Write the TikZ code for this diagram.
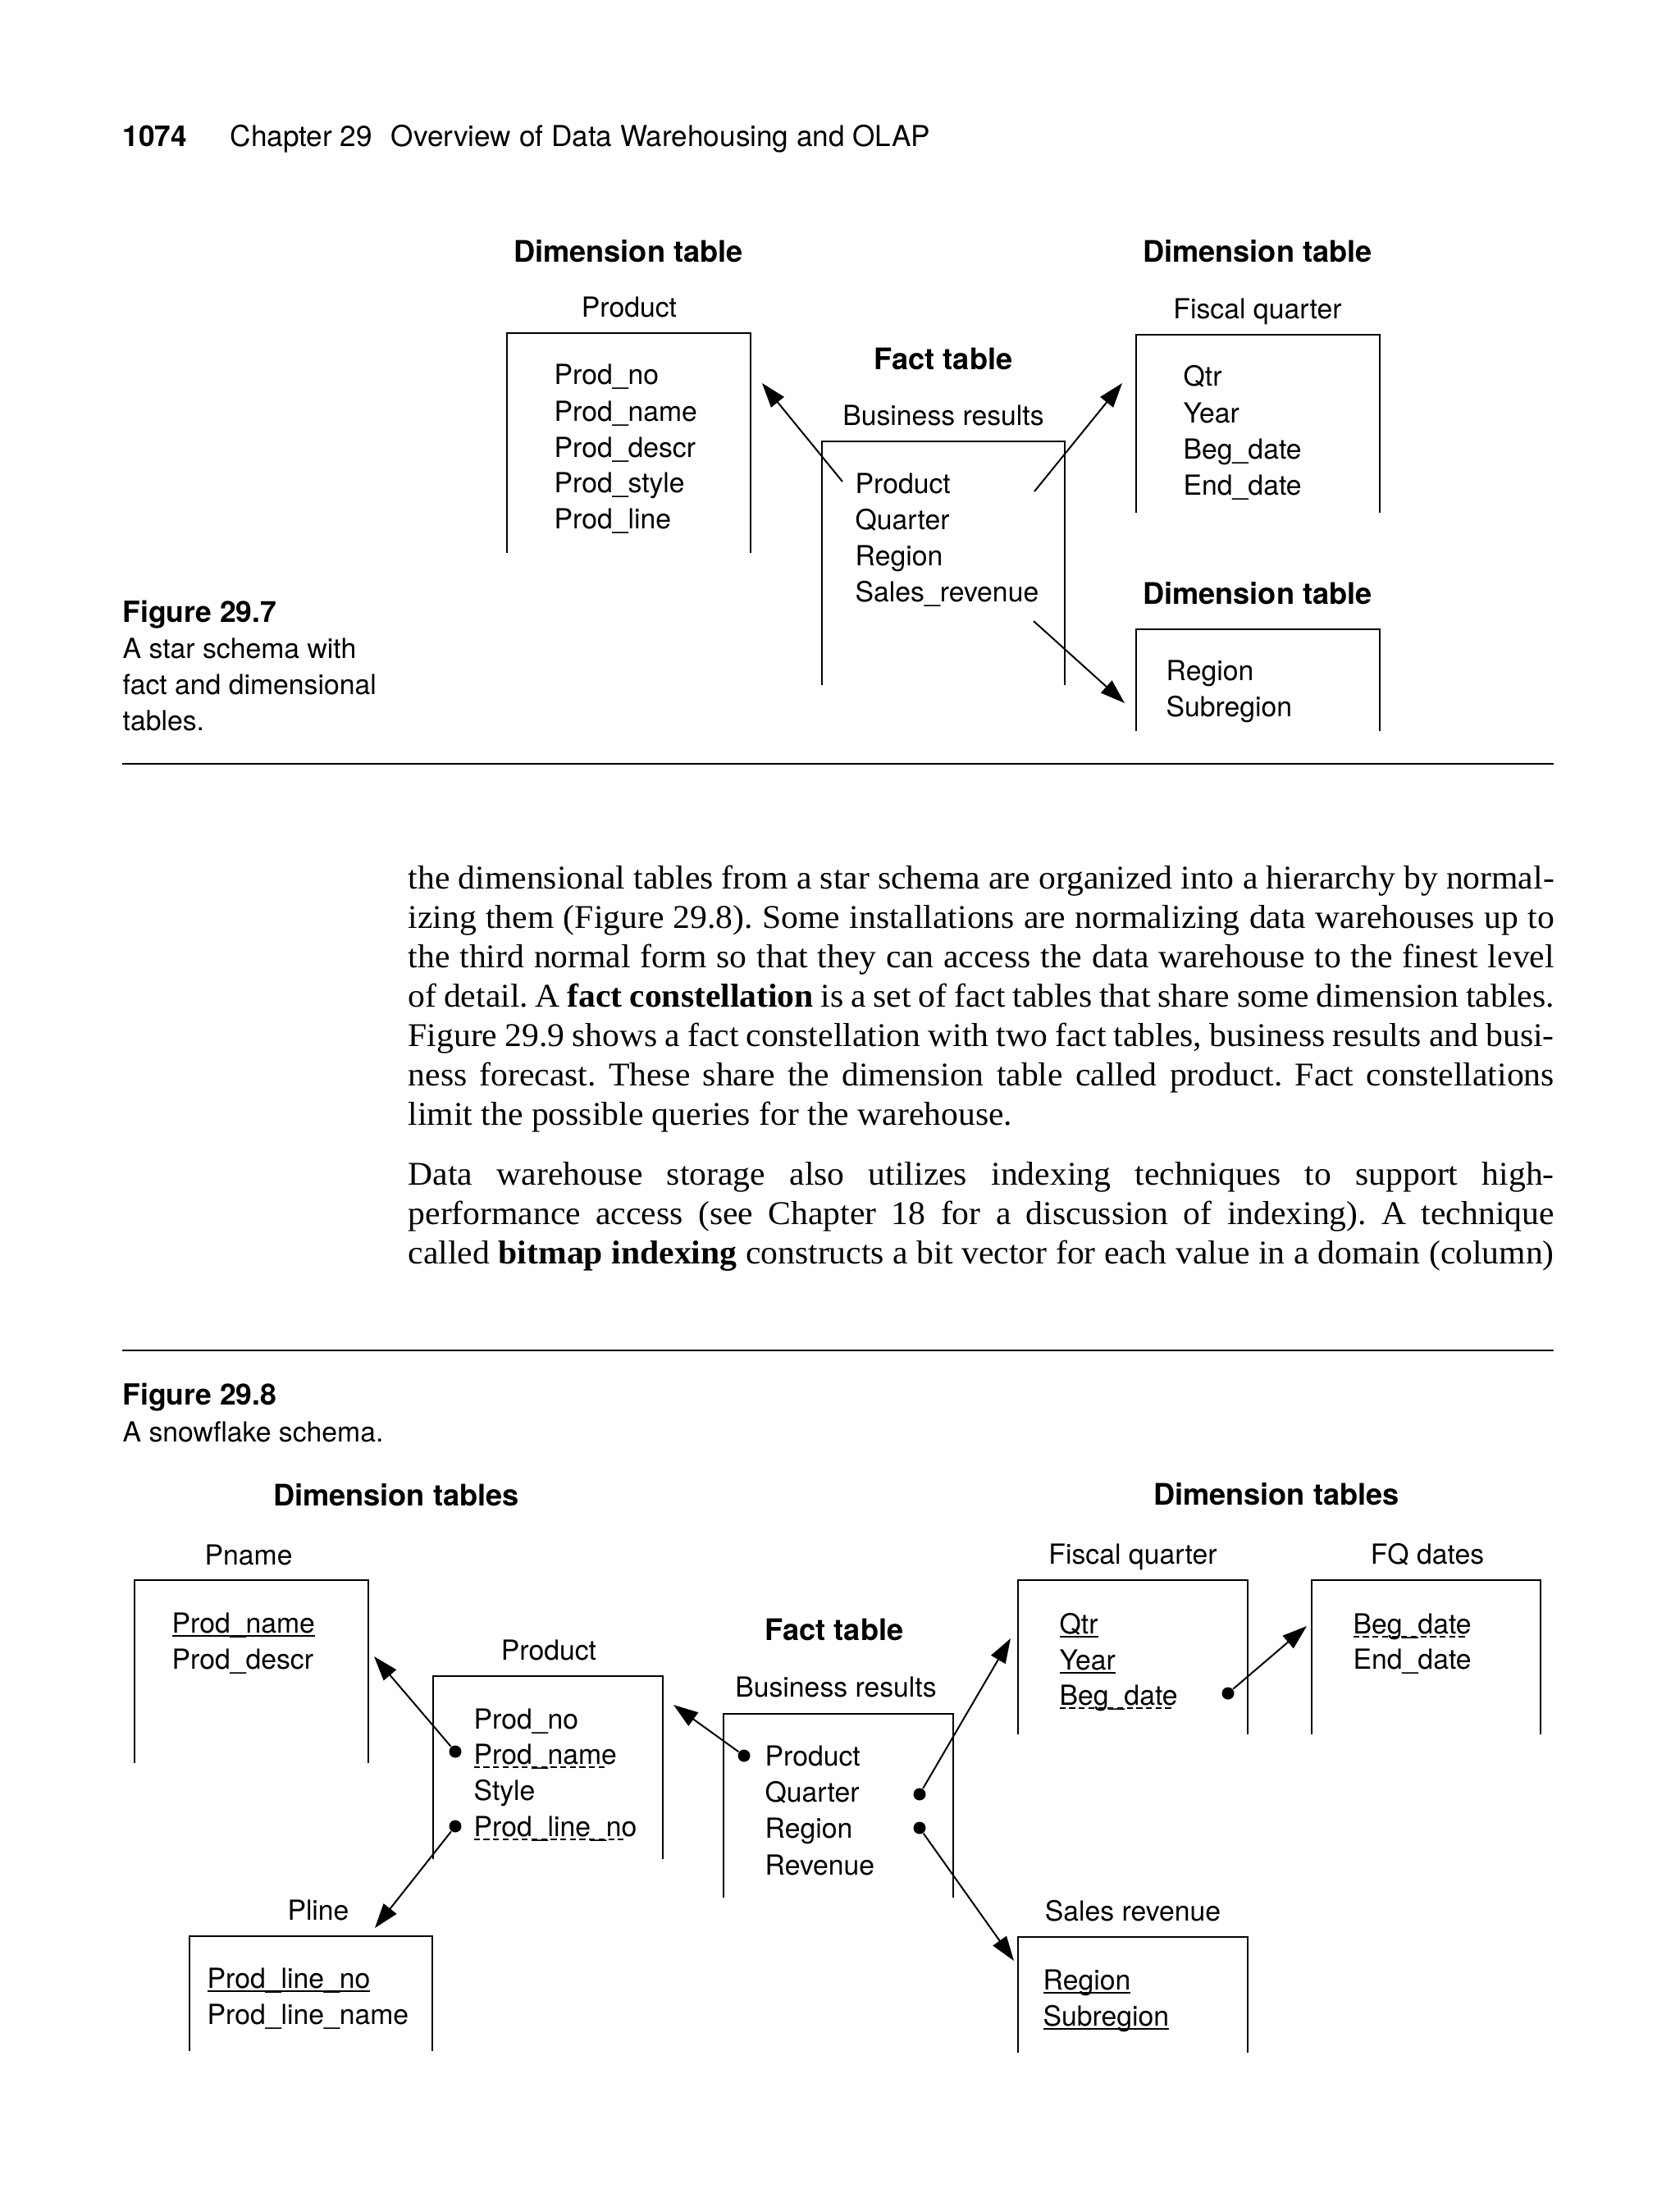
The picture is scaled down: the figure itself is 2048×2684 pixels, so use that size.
\documentclass[tikz,border=0pt]{standalone}
\usepackage{fontspec}
\setmainfont{Liberation Serif}[FakeStretch=1.03]
\newfontfamily\hv{TeX Gyre Heros}
\usetikzlibrary{arrows.meta}
\newcommand\dtext{\hv\fontsize{9.6}{11}\selectfont}
\newcommand\dbold{\hv\bfseries\fontsize{10.3}{12}\selectfont}
\newcommand\hdrfont{\hv\fontsize{10}{12}\selectfont}
\newcommand\capfont{\hv\fontsize{9.6}{12}\selectfont}
\newcommand\capbold{\hv\bfseries\fontsize{10.1}{12}\selectfont}
\newcommand\bodyfont{\fontsize{11.5}{13.7}\selectfont\frenchspacing}
\newsavebox\ulbox
\newcommand\solidu[1]{\sbox\ulbox{#1}\rlap{\rule[-0.5mm]{\wd\ulbox}{0.22mm}}\usebox\ulbox}
\newcommand\dashu[1]{\sbox\ulbox{#1}\rlap{\hbox to\wd\ulbox{\leaders\hbox{\rule[-0.5mm]{0.72mm}{0.22mm}\hskip0.45mm}\hfill}}\usebox\ulbox}
\newcommand\bline[1]{{\bodyfont\spaceskip=0.2em plus 1em\relax\makebox[139.7mm][s]{#1}}}
\begin{document}
\begin{tikzpicture}[x=0.1mm,y=-0.1mm,
  item/.style={anchor=base west,inner sep=0,font=\dtext},
  tname/.style={anchor=base,inner sep=0,font=\dtext},
  ttl/.style={anchor=base,inner sep=0,font=\dbold},
  body/.style={anchor=base west,inner sep=0},
  capt/.style={anchor=base west,inner sep=0,font=\capfont},
  tbl/.style={line width=0.25mm},
  arr/.style={line width=0.2mm,-{Triangle[length=3mm,width=2mm]}},
  dotn/.style={circle,fill,inner sep=0,minimum size=1.5mm},
  hrule/.style={line width=0.25mm}]
\fill[white] (0,0) rectangle (2048,2684);
\useasboundingbox (0,0) rectangle (2048,2684);

% header
\node[anchor=base west,inner sep=0,font=\hv\bfseries\fontsize{10}{12}\selectfont] (pg) at (149,178) {1074};
\node[anchor=base west,inner sep=0,font=\hdrfont] (chap) at (280,178) {Chapter 29\hspace{2.3mm}Overview of Data Warehousing and OLAP};

% ---------- Figure 29.7 ----------
\node[ttl] (d1) at (766,319) {Dimension table};
\node[tname] (t1) at (767,386) {Product};
\draw[tbl] (618,674) -- (618,406) -- (915,406) -- (915,674);
\node[item] (p1) at (675,468) {Prod\_no};
\node[item] (p2) at (675,513) {Prod\_name};
\node[item] (p3) at (675,557) {Prod\_descr};
\node[item] (p4) at (675,600) {Prod\_style};
\node[item] (p5) at (675,644) {Prod\_line};

\node[ttl] (ft) at (1150,450) {Fact table};
\node[tname] (br) at (1150,518) {Business results};
\draw[tbl] (1002,835) -- (1002,538) -- (1298,538) -- (1298,835);
\node[item] (f1) at (1042,601) {Product};
\node[item] (f2) at (1042,645) {Quarter};
\node[item] (f3) at (1042,689) {Region};
\node[item] (f4) at (1042,733) {Sales\_revenue};

\node[ttl] (d2) at (1533,319) {Dimension table};
\node[tname] (t2) at (1533,388) {Fiscal quarter};
\draw[tbl] (1385,625) -- (1385,408) -- (1682,408) -- (1682,625);
\node[item] (q1) at (1442,470) {Qtr};
\node[item] (q2) at (1442,515) {Year};
\node[item] (q3) at (1442,559) {Beg\_date};
\node[item] (q4) at (1442,603) {End\_date};

\node[ttl] (d3) at (1533,736) {Dimension table};
\draw[tbl] (1385,891) -- (1385,767) -- (1682,767) -- (1682,891);
\node[item] (r1) at (1421,829) {Region};
\node[item] (r2) at (1421,873) {Subregion};

\coordinate (s1) at (1027,587);
\coordinate (e1) at (929,467);
\coordinate (s2) at (1261,599);
\coordinate (e2) at (1368,467);
\coordinate (s3) at (1260,757);
\coordinate (e3) at (1371,857);
\draw[arr] (s1) -- (e1);
\draw[arr] (s2) -- (e2);
\draw[arr] (s3) -- (e3);

\node[anchor=base west,inner sep=0,font=\capbold] (c7) at (149,758) {Figure 29.7};
\node[capt] (c7a) at (149,802) {A star schema with};
\node[capt] (c7b) at (149,846) {fact and dimensional};
\node[capt] (c7c) at (149,890) {tables.};

\coordinate (r1a) at (149,931);
\coordinate (r1b) at (1894,931);
\draw[hrule] (r1a) -- (r1b);

% ---------- body text ----------
\node[body] (b1) at (497,1083) {\bline{the dimensional tables from a star schema are organized into a hierarchy by normal-}};
\node[body] (b2) at (497,1131) {\bline{izing them (Figure 29.8). Some installations are normalizing data warehouses up to}};
\node[body] (b3) at (497,1179) {\bline{the third normal form so that they can access the data warehouse to the finest level}};
\node[body] (b4) at (497,1227) {\bline{of detail. A \textbf{fact constellation} is a set of fact tables that share some dimension tables.}};
\node[body] (b5) at (497,1275) {\bline{Figure 29.9 shows a fact constellation with two fact tables, business results and busi-}};
\node[body] (b6) at (497,1323) {\bline{ness forecast. These share the dimension table called product. Fact constellations}};
\node[body] (b7) at (497,1371) {\bodyfont limit the possible queries for the warehouse.};
\node[body] (b8) at (497,1444) {\bline{Data warehouse storage also utilizes indexing techniques to support high-}};
\node[body] (b9) at (497,1492) {\bline{performance access (see Chapter 18 for a discussion of indexing). A technique}};
\node[body] (b10) at (497,1540) {\bline{called \textbf{bitmap indexing} constructs a bit vector for each value in a domain (column)}};

\coordinate (r2a) at (149,1646);
\coordinate (r2b) at (1894,1646);
\draw[hrule] (r2a) -- (r2b);

\node[anchor=base west,inner sep=0,font=\capbold] (c8) at (149,1712) {Figure 29.8};
\node[capt] (c8a) at (149,1757) {A snowflake schema.};

% ---------- Figure 29.8 ----------
\node[ttl] (dl) at (483,1835) {Dimension tables};
\node[ttl] (dr) at (1556,1834) {Dimension tables};

\node[item] (pn) at (249,1907) {Pname};
\draw[tbl] (164,2149) -- (164,1926) -- (449,1926) -- (449,2149);
\node[item] (pn1) at (209,1990) {\solidu{Prod\_name}};
\node[item] (pn2) at (209,2034) {Prod\_descr};

\node[tname] (pr) at (669,2023) {Product};
\draw[tbl] (528,2266) -- (528,2043) -- (808,2043) -- (808,2266);
\node[item] (pr1) at (577,2107) {Prod\_no};
\node[item] (pr2) at (577,2150) {\dashu{Prod\_name}};
\node[item] (pr3) at (577,2194) {Style};
\node[item] (pr4) at (577,2238) {\dashu{Prod\_line\_no}};
\node[dotn] (dPn) at (555,2135) {};
\node[dotn] (dPl) at (555,2226) {};

\node[tname] (pl) at (388,2340) {Pline};
\draw[tbl] (231,2500) -- (231,2360) -- (527,2360) -- (527,2500);
\node[item] (pl1) at (252,2423) {\solidu{Prod\_line\_no}};
\node[item] (pl2) at (252,2467) {Prod\_line\_name};

\node[ttl] (ft2) at (1017,1999) {Fact table};
\node[tname] (br2) at (1019,2068) {Business results};
\draw[tbl] (882,2313) -- (882,2089) -- (1162,2089) -- (1162,2313);
\node[item] (fa1) at (932,2152) {Product};
\node[item] (fa2) at (932,2196) {Quarter};
\node[item] (fa3) at (932,2240) {Region};
\node[item] (fa4) at (932,2285) {Revenue};
\node[dotn] (dFp) at (907,2140) {};
\node[dotn] (dFq) at (1121,2187) {};
\node[dotn] (dFr) at (1121,2228) {};

\node[tname] (fq) at (1381,1906) {Fiscal quarter};
\draw[tbl] (1241,2114) -- (1241,1926) -- (1521,1926) -- (1521,2114);
\node[item] (fq1) at (1291,1991) {\solidu{Qtr}};
\node[item] (fq2) at (1291,2035) {\solidu{Year}};
\node[item] (fq3) at (1291,2078) {\dashu{Beg\_date}};
\node[dotn] (dFb) at (1497,2064) {};

\node[tname] (fd) at (1740,1906) {FQ dates};
\draw[tbl] (1599,2114) -- (1599,1926) -- (1878,1926) -- (1878,2114);
\node[item] (fd1) at (1649,1991) {\dashu{Beg\_date}};
\node[item] (fd2) at (1649,2034) {End\_date};

\node[tname] (sr) at (1381,2341) {Sales revenue};
\draw[tbl] (1241,2502) -- (1241,2361) -- (1521,2361) -- (1521,2502);
\node[item] (sr1) at (1271,2425) {\solidu{Region}};
\node[item] (sr2) at (1271,2469) {\solidu{Subregion}};

\coordinate (tPn) at (456,2019);
\coordinate (tPl) at (457,2350);
\coordinate (tPr) at (821,2078);
\coordinate (tFq) at (1232,1997);
\coordinate (tFr) at (1236,2390);
\coordinate (tFb) at (1593,1982);
\draw[arr] (dPn) -- (tPn);
\draw[arr] (dPl) -- (tPl);
\draw[arr] (dFp) -- (tPr);
\draw[arr] (dFq) -- (tFq);
\draw[arr] (dFr) -- (tFr);
\draw[arr] (dFb) -- (tFb);
\end{tikzpicture}
\end{document}
